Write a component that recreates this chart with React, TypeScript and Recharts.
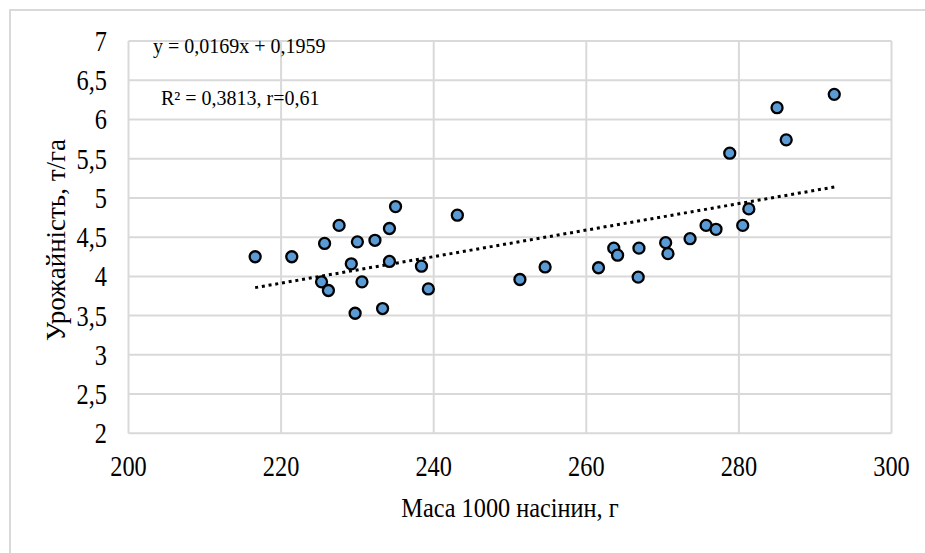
import {
  ScatterChart,
  Scatter,
  XAxis,
  YAxis,
  CartesianGrid,
  ReferenceLine,
  Customized,
} from 'recharts';

// 1000-seed weight, g
const seedMass = [
  216.6, 221.4, 225.7, 227.6, 230.0, 232.3, 234.2, 235.0, 243.1,
  229.2, 234.2, 238.4, 225.3, 226.2, 230.6, 239.3, 229.7, 233.3,
  251.3, 254.6, 261.6, 263.6, 264.1, 266.9, 266.8, 270.4, 270.7,
  273.6, 275.7, 277.0, 278.8, 280.5, 281.3, 285.0, 286.2, 292.5,
];

// yield, t/ha
const yieldValues = [
  4.25, 4.25, 4.42, 4.65, 4.44, 4.46, 4.61, 4.89, 4.78,
  4.16, 4.19, 4.13, 3.93, 3.82, 3.93, 3.84, 3.53, 3.59,
  3.96, 4.12, 4.11, 4.36, 4.27, 4.36, 3.99, 4.43, 4.29,
  4.48, 4.65, 4.60, 5.57, 4.65, 4.86, 6.15, 5.74, 6.32,
];

const xTicks = [200, 220, 240, 260, 280, 300];
const yTicks = [2, 2.5, 3, 3.5, 4, 4.5, 5, 5.5, 6, 6.5, 7];

// linear trend from the chart's own equation
const slope = 0.0169;
const intercept = 0.1959;

const FONT = '"Liberation Serif", "Times New Roman", serif';

const points = seedMass.map((m, i) => ({ x: m, y: yieldValues[i] }));
const trendFrom = Math.min(...seedMass);
const trendTo = Math.max(...seedMass);

const fmt = (v: number) => String(v).replace('.', ',');

function XTick({ x, y, payload }: any) {
  return (
    <g transform={`translate(${x},${y})`}>
      <text x={0} y={43} textAnchor="middle" fontFamily={FONT} fontSize={29} fill="#000" transform="scale(0.84,1)">
        {fmt(payload.value)}
      </text>
    </g>
  );
}

function YTick({ x, y, payload }: any) {
  return (
    <g transform={`translate(${x - 21.5},${y})`}>
      <text x={0} y={10} textAnchor="end" fontFamily={FONT} fontSize={29} fill="#000" transform="scale(0.84,1)">
        {fmt(payload.value)}
      </text>
    </g>
  );
}

function Dot(props: any) {
  return <circle cx={props.cx} cy={props.cy} r={5.5} fill="#5B9BD5" stroke="#000" strokeWidth={2.3} />;
}

function Texts() {
  return (
    <g fontFamily={FONT} fill="#000">
      <text x={153} y={53} fontSize={20}>y = 0,0169x + 0,1959</text>
      <text x={161} y={105} fontSize={20}>R² = 0,3813, r=0,61</text>
      <g transform="translate(510,517)">
        <text x={0} y={0} textAnchor="middle" fontSize={27} transform="scale(0.9,1)">Маса 1000 насінин, г</text>
      </g>
      <text transform="translate(65,240) rotate(-90)" textAnchor="middle" fontSize={27}>Урожайність, т/га</text>
    </g>
  );
}

export default function App() {
  return (
    <>
      <div
        style={{
          position: 'absolute',
          left: 9,
          top: 9,
          width: 916,
          height: 544,
          boxSizing: 'border-box',
          borderLeft: '2px solid #d9d9d9',
          borderTop: '2px solid #d9d9d9',
          background: '#fff',
        }}
      />
      <div style={{ position: 'absolute', left: 0, top: 0 }}>
        <ScatterChart width={925} height={553} margin={{ top: 41, right: 33.5, left: 28.5, bottom: 59.7 }}>
          <CartesianGrid stroke="#d9d9d9" strokeWidth={2} />
          <XAxis
            type="number"
            dataKey="x"
            domain={[200, 300]}
            ticks={xTicks}
            height={60}
            axisLine={false}
            tickLine={false}
            tickSize={0}
            tickMargin={0}
            tick={<XTick />}
            interval={0}
          />
          <YAxis
            type="number"
            dataKey="y"
            domain={[2, 7]}
            ticks={yTicks}
            width={100}
            axisLine={false}
            tickLine={false}
            tickSize={0}
            tickMargin={0}
            tick={<YTick />}
            interval={0}
          />
          <ReferenceLine
            segment={[
              { x: trendFrom, y: slope * trendFrom + intercept },
              { x: trendTo, y: slope * trendTo + intercept },
            ]}
            stroke="#000"
            strokeWidth={3}
            strokeDasharray="3 3.8"
          />
          <Scatter data={points} shape={<Dot />} isAnimationActive={false} />
          <Customized component={<Texts />} />
        </ScatterChart>
      </div>
    </>
  );
}
